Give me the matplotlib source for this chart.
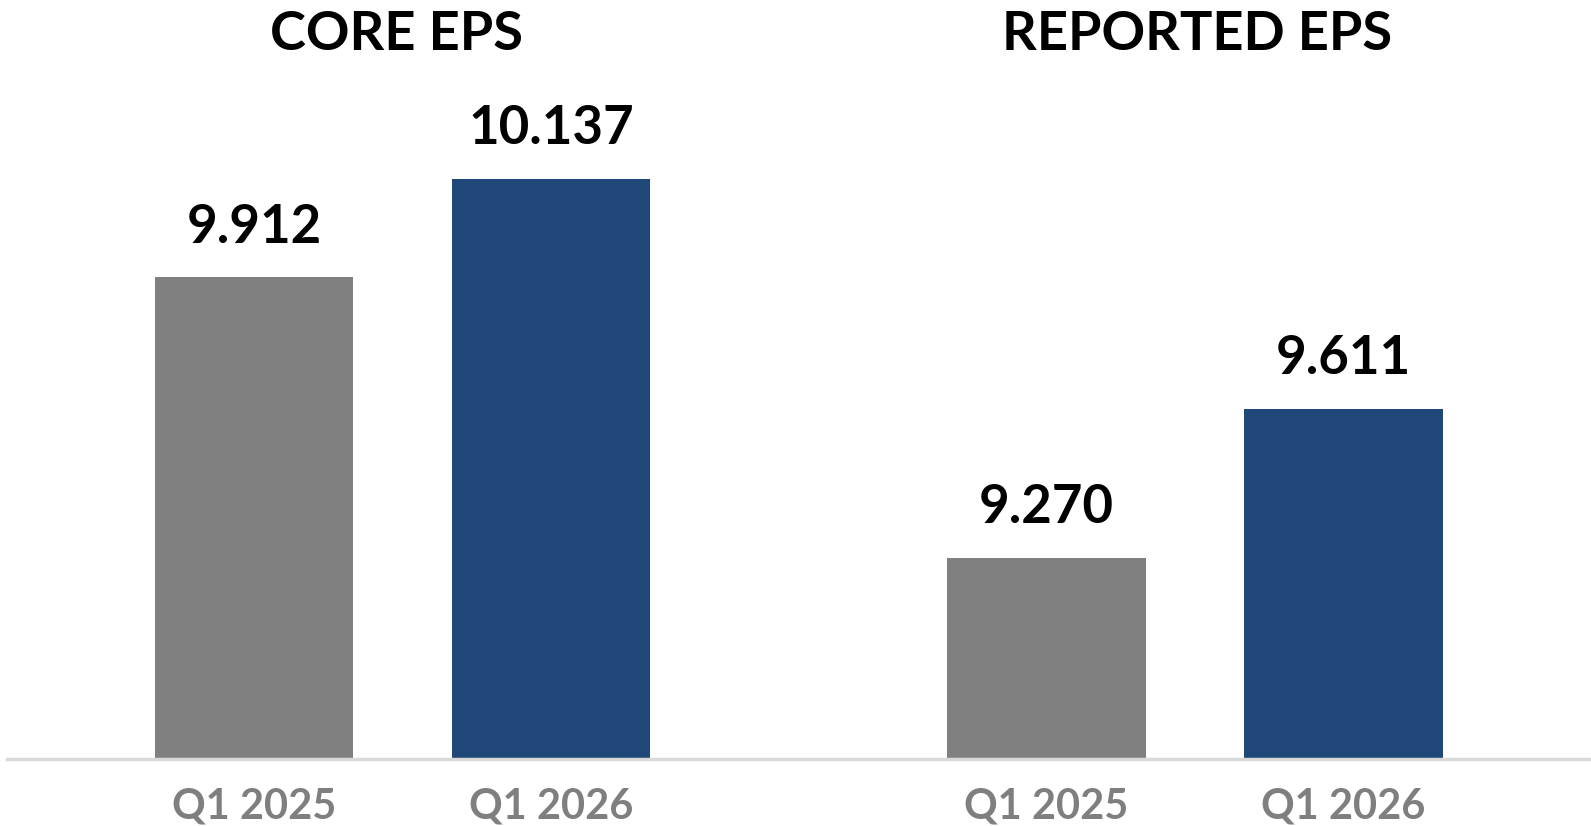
import matplotlib.pyplot as plt

plt.rcParams['font.family'] = ['Lato', 'DejaVu Sans']

# data
groups = ['CORE EPS', 'REPORTED EPS']
periods = ['Q1 2025', 'Q1 2026']
core_eps = [9.912, 10.137]
reported_eps = [9.270, 9.611]
value_labels = ['9.912', '10.137', '9.270', '9.611']

bar_colors = ['#808080', '#1F4778']
x_pos = [0, 1, 2.667, 3.667]
values = core_eps + reported_eps

y_min, y_max = 8.81, 10.547

fig = plt.figure(figsize=(15.91, 8.26), dpi=100)
ax = fig.add_axes([7 / 1591, 67 / 826, 1 - 7 / 1591, 759 / 826])

ax.bar(x_pos, values, width=0.667, color=bar_colors * 2, zorder=2)
ax.set_xlim(-0.832, 4.50)
ax.set_ylim(y_min, y_max)

for s in ['top', 'right', 'left']:
    ax.spines[s].set_visible(False)
ax.spines['bottom'].set_color('#d9d9d9')
ax.spines['bottom'].set_linewidth(2.5)
ax.spines['bottom'].set_zorder(3)
ax.set_yticks([])
ax.set_xticks([])

# value labels above bars
for x, v, lab in zip(x_pos, values, value_labels):
    ax.annotate(lab, (x, v), xytext=(0, 25), textcoords='offset points',
                ha='center', va='baseline', fontsize=38, fontweight='bold',
                color='black')

# period labels under the axis
for i, x in enumerate(x_pos):
    ax.annotate(periods[i % 2], (x, y_min), xytext=(0, -42.5),
                textcoords='offset points', ha='center', va='baseline',
                fontsize=30, fontweight='bold', color='#7f7f7f',
                annotation_clip=False)

# group titles
fig.text(396 / 1591, 1 - 50 / 826, groups[0], ha='center', va='baseline',
         fontsize=39, fontweight='bold', color='black')
fig.text(1197 / 1591, 1 - 50 / 826, groups[1], ha='center', va='baseline',
         fontsize=39, fontweight='bold', color='black')

fig.savefig('out.png', dpi=100)
